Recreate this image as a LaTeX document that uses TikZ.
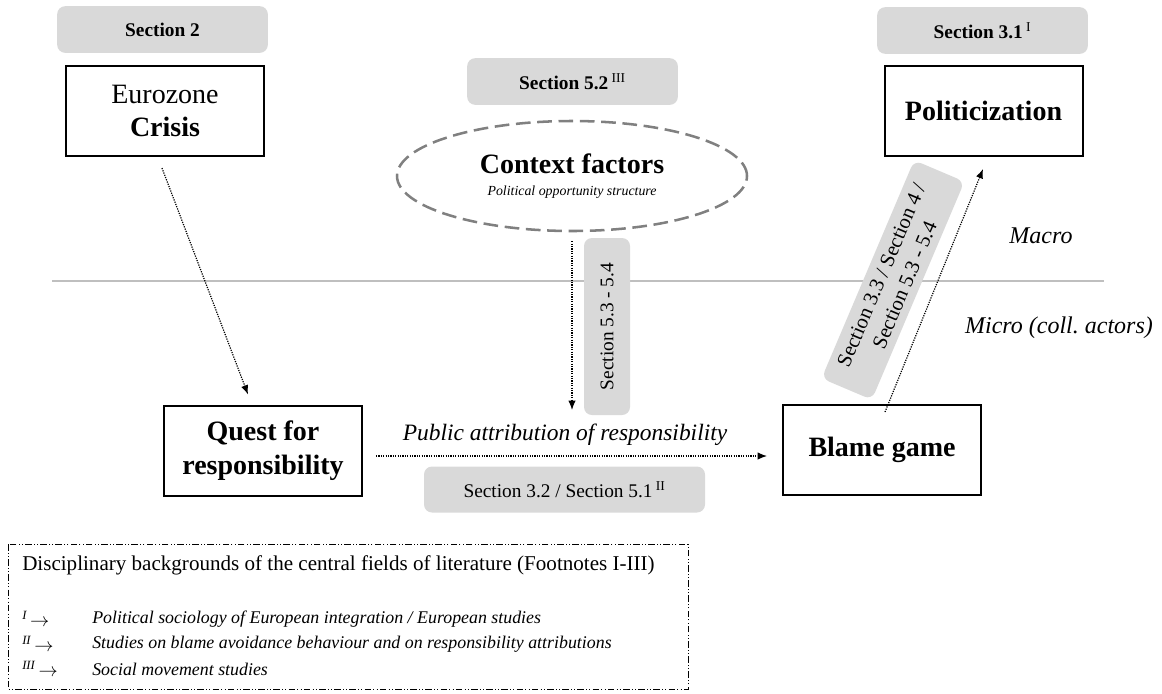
\documentclass[tikz,border=0pt]{standalone}
\usepackage{fontspec}
\setmainfont{Liberation Serif}
\usetikzlibrary{shapes.geometric,arrows.meta,calc}

\tikzset{
  concept/.style={draw=black, line width=1.5pt, minimum width=148.5pt, minimum height=67.5pt,
    align=center, inner sep=2pt, font={\fontsize{21}{25}\selectfont}},
  tag/.style={fill=black!15, rounded corners=6pt, minimum width=158pt, minimum height=35pt,
    align=center, inner sep=2pt, font={\fontsize{14.5}{17}\selectfont\bfseries}},
  slab/.style={fill=black!15, rounded corners=6pt, minimum height=34.5pt, align=center,
    inner sep=1pt, font={\fontsize{14.5}{17}\selectfont}},
  link/.style={line width=0.9pt, dash pattern=on 0.9pt off 0.9pt, -{Latex[length=7pt,width=5.5pt]}},
  level/.style={font={\fontsize{18}{21}\selectfont\itshape}},
  legtext/.style={anchor=west, inner sep=0pt, font={\fontsize{15.8}{18}\selectfont}},
  legitem/.style={anchor=west, inner sep=0pt, font={\fontsize{13.4}{16}\selectfont\itshape}},
  legmark/.style={anchor=west, inner sep=0pt, font={\fontsize{13.5}{16}\selectfont}},
}

\begin{document}
\begin{tikzpicture}[x=0.75pt,y=-0.75pt]
\useasboundingbox (0,0) rectangle (1162,693);

% border between the macro and the micro level
\coordinate (divL) at (52,281);
\coordinate (divR) at (1104,281);
\draw[black!25, line width=1.5pt] (divL) -- (divR);
\node[level] (macro) at (1041,236) {Macro};
\node[level] (micro) at (1059,328) {Micro (coll.\ actors)};

% section tags above the macro boxes
\node[tag] (sec2) at (162.5,29.5) {Section 2};
\node[tag] (sec52) at (572.5,81.5) {Section 5.2\,\textsuperscript{\mdseries III}};
\node[tag] (sec31) at (982.5,30.5) {Section 3.1\,\textsuperscript{\mdseries I}};

% macro level
\node[concept] (euro) at (165,111) {Eurozone\\\textbf{Crisis}};
\node[concept] (pol) at (983.5,111) {\textbf{Politicization}};
\node[ellipse, draw=black!50, line width=1.9pt, dash pattern=on 11pt off 5pt,
      minimum width=262.5pt, minimum height=82.5pt, inner sep=0pt, align=center,
      font={\fontsize{21}{17}\selectfont}] (ctx) at (572,176)
  {\textbf{Context factors}\\{\fontsize{10.4}{12}\selectfont\itshape Political opportunity structure}};

% micro level
\node[concept] (quest) at (263,450.5) {\textbf{Quest for}\\\textbf{responsibility}};
\node[concept] (blame) at (882,450) {\textbf{Blame game}};
\node[font={\fontsize{17.6}{20}\selectfont\itshape}] (pub) at (565,435) {Public attribution of responsibility};
\node[slab, minimum width=210.75pt] (sec3251) at (564.5,489.5) {Section 3.2 / Section 5.1\,\textsuperscript{II}};

% upright and slanted section tags along the links
\node[slab, rotate=90, minimum width=132.75pt] (sec5354) at (607,326.5) {Section 5.3 - 5.4};
\node[slab, rotate=67, minimum width=177.75pt, minimum height=41pt,
      font={\fontsize{15.5}{19}\selectfont}] (sec3354) at (893,280)
  {Section 3.3 / Section 4 /\\Section 5.3 - 5.4};

% links
\coordinate (drop) at (572,410);
\draw[link] ($(euro.south)+(-3,11)$) -- ($(quest.north)+(-15,-10)$);
\draw[link] ($(ctx.south)+(0,9)$) -- (drop);
\draw[link] ($(quest.east)+(13,5.5)$) -- ($(blame.west)+(-15,6)$);
\draw[link] ($(blame.north)+(3,8)$) -- ($(pol.south)+(-0.5,12)$);

% legend of the disciplinary backgrounds
\draw[line width=0.75pt, dash pattern=on 5pt off 1.6pt on 0.8pt off 1.6pt on 0.8pt off 1.6pt]
  (8,544) rectangle (688,689);
\node[legtext] (legtitle) at (22,565) {Disciplinary backgrounds of the central fields of literature (Footnotes I-III)};
\node[legmark] (n1) at (22,619) {\textsuperscript{\itshape I}\,$\rightarrow$};
\node[legmark] (n2) at (22,644) {\textsuperscript{\itshape II}\,$\rightarrow$};
\node[legmark] (n3) at (22,669) {\textsuperscript{\itshape III}\,$\rightarrow$};
\node[legitem] (l1) at (92,619) {Political sociology of European integration / European studies};
\node[legitem] (l2) at (92,644) {Studies on blame avoidance behaviour and on responsibility attributions};
\node[legitem] (l3) at (92,669) {Social movement studies};
\end{tikzpicture}
\end{document}
